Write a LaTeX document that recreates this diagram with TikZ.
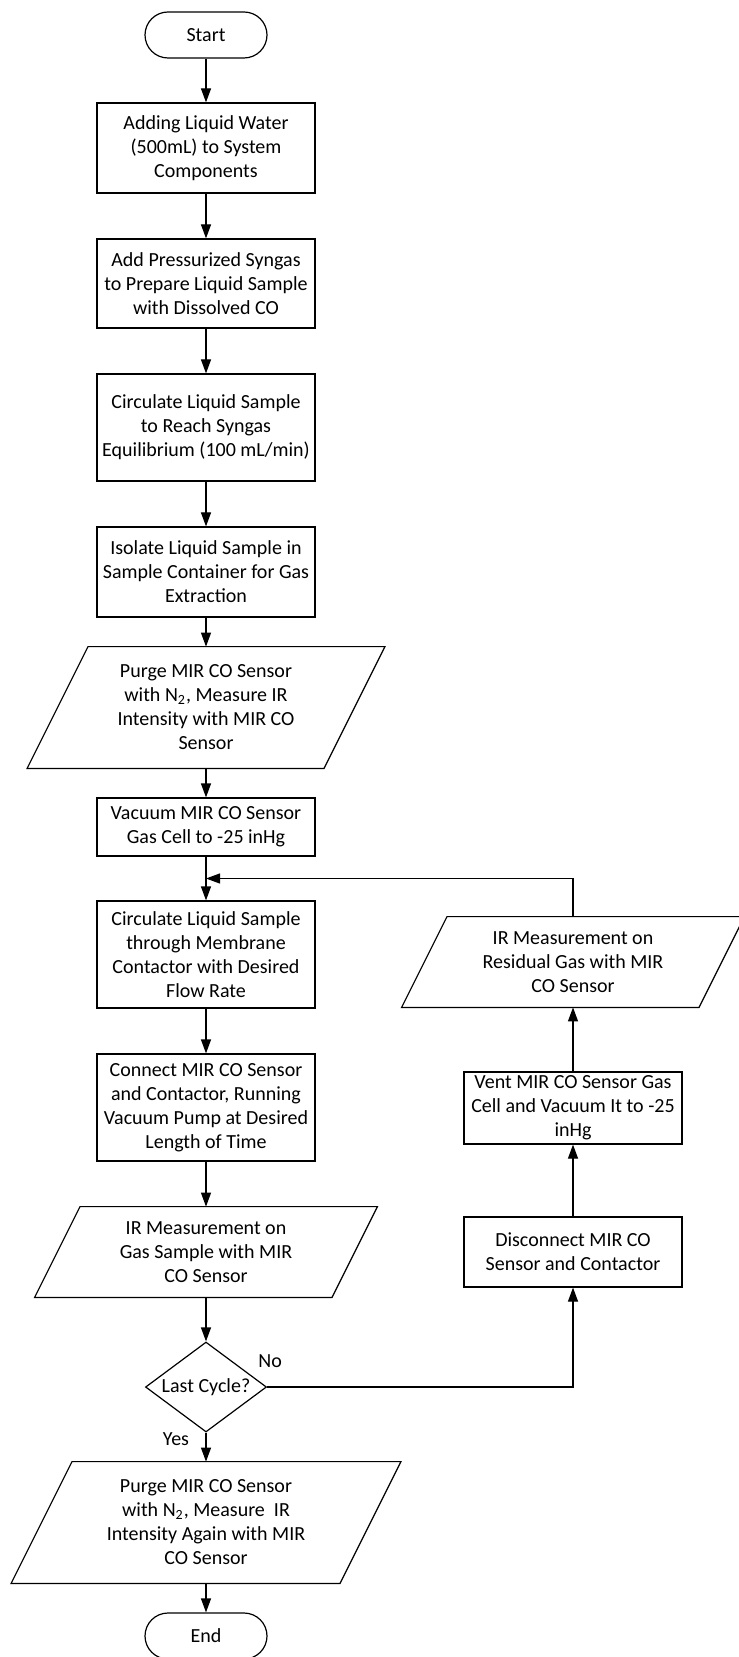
\documentclass[tikz,border=0pt]{standalone}
\usepackage{fontspec}
\setmainfont{Carlito}
\usetikzlibrary{calc}
\usetikzlibrary{shapes.geometric}
\usetikzlibrary{arrows.meta}

\begin{document}
\begin{tikzpicture}[x=0.5pt, y=-0.5pt, every node/.style={font=\fontsize{10}{12}\selectfont}]
            \tikzstyle{stepbox} = [draw, line width=0.6pt, minimum width=109pt, align=center, inner sep=1pt]
            \tikzstyle{term} = [draw, line width=0.6pt, rounded corners=11.5pt, minimum width=61pt, minimum height=23pt, inner sep=0pt]
            \tikzstyle{iobox} = [align=center, inner sep=0pt]
            \tikzstyle{decide} = [draw, line width=0.6pt, diamond, aspect=1.344, minimum width=60.5pt, minimum height=45pt, inner sep=0pt]
            \tikzstyle{flow} = [line width=0.6pt, -{Triangle[length=7pt, width=5pt]}]
            \useasboundingbox (0,0) rectangle (738,1657);
            \node[term] (start) at (206,35) {Start};
            \node[stepbox, minimum height=45pt] (add) at (206,148) {Adding Liquid Water\\(500mL) to System\\Components};
            \node[stepbox, minimum height=44.5pt] (syngas) at (206,283.5) {Add Pressurized Syngas\\to Prepare Liquid Sample\\with Dissolved CO};
            \node[stepbox, minimum height=53.5pt] (circ) at (206,427.5) {Circulate Liquid Sample\\to Reach Syngas\\Equilibrium (100 mL/min)};
            \node[stepbox, minimum height=45pt] (isolate) at (206,572) {Isolate Liquid Sample in\\Sample Container for Gas\\Extraction};
            \node[iobox, minimum width=178.5pt, minimum height=60.5pt] (purge) at (206,707.5) {Purge MIR CO Sensor\\with N\textsubscript{2}, Measure IR\\Intensity with MIR CO\\Sensor};
            \node[stepbox, minimum height=29pt] (vac) at (206,827) {Vacuum MIR CO Sensor\\Gas Cell to -25 inHg};
            \node[stepbox, minimum height=53.5pt] (memb) at (206,954.5) {Circulate Liquid Sample\\through Membrane\\Contactor with Desired\\Flow Rate};
            \node[stepbox, minimum height=53.5pt] (connect) at (206,1107.5) {Connect MIR CO Sensor\\and Contactor, Running\\Vacuum Pump at Desired\\Length of Time};
            \node[iobox, minimum width=171pt, minimum height=45pt] (gasir) at (206,1252) {IR Measurement on\\Gas Sample with MIR\\CO Sensor};
            \node[decide] (last) at (206,1387) {Last Cycle?};
            \node[iobox, minimum width=194.5pt, minimum height=60.5pt] (purgeend) at (206,1522.5) {Purge MIR CO Sensor\\with N\textsubscript{2}, Measure\ \ IR\\Intensity Again with MIR\\CO Sensor};
            \node[term] (finish) at (206,1636) {End};
            \node[iobox, minimum width=171pt, minimum height=45pt] (resir) at (573,962) {IR Measurement on\\Residual Gas with MIR\\CO Sensor};
            \node[stepbox, minimum height=36pt] (vent) at (573,1108) {Vent MIR CO Sensor Gas\\Cell and Vacuum It to -25\\inHg};
            \node[stepbox, minimum height=35pt] (disc) at (573,1252) {Disconnect MIR CO\\Sensor and Contactor};
            \foreach \shp in {purge, gasir, purgeend, resir}
                \draw[line width=0.6pt] let \p1=(\shp.north west), \p2=(\shp.south east), \n1={(\y1-\y2)/2} in
                    (\x1+\n1,\y1) -- (\x2,\y1) -- (\x2-\n1,\y2) -- (\x1,\y2) -- cycle;
            \coordinate (join) at ($(vac.south)!0.5!(memb.north)$);
            \foreach \a/\b in {start/add, add/syngas, syngas/circ, circ/isolate, isolate/purge, purge/vac, vac/memb, memb/connect, connect/gasir, gasir/last, purgeend/finish, disc/vent, vent/resir}
                \draw[flow] (\a) -- (\b);
            \draw[flow] (last) -- node[pos=0.3, xshift=-15pt, yshift=1pt] {Yes} (purgeend);
            \draw[flow] (last.east) -| node[pos=0, xshift=1.5pt, yshift=13pt] {No} (disc.south);
            \draw[flow] (resir.north) |- (join);
        \end{tikzpicture}
\end{document}
